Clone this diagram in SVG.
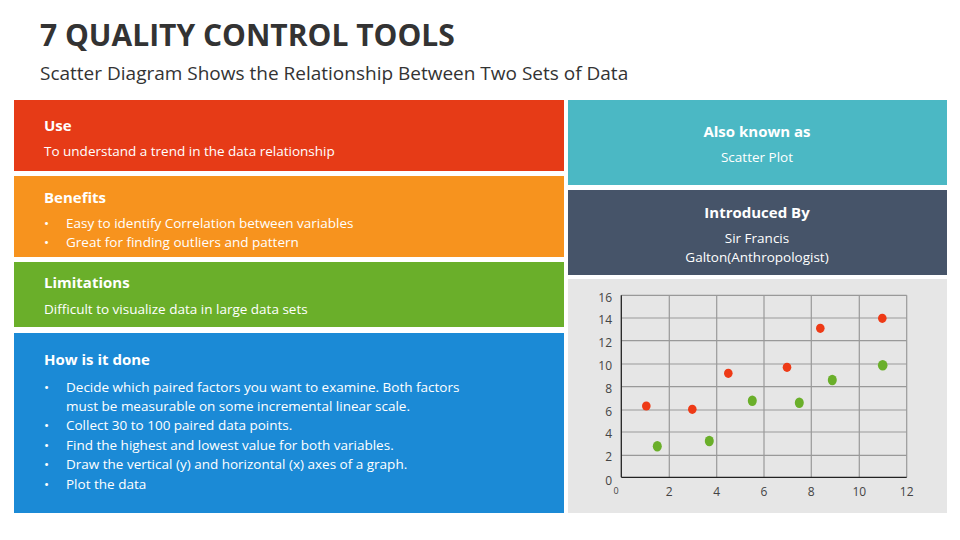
<svg xmlns="http://www.w3.org/2000/svg" width="960" height="540" viewBox="0 0 960 540">
<style>
text{font-family:"Open Sans","Liberation Sans",sans-serif;}
.h{font-size:15px;font-weight:bold;fill:#fff}
.b{font-size:13.5px;fill:#fff}
.ax{font-size:12px;fill:#444}
.g{stroke:#999;stroke-width:1.2}
.r{fill:#EE3A16}
.gr{fill:#6AAF2A}
</style>
<rect width="960" height="540" fill="#fff"/>
<text x="40" y="46" font-size="30" font-weight="bold" fill="#333">7 QUALITY CONTROL TOOLS</text>
<text x="40" y="80" font-size="19" fill="#333">Scatter Diagram Shows the Relationship Between Two Sets of Data</text>
<g id="use"><rect x="14" y="100" width="550" height="71" fill="#E63B17"/>
<text class="h" x="44" y="131">Use</text><text class="b" x="44" y="156">To understand a trend in the data relationship</text></g>
<g id="benefits"><rect x="14" y="176" width="550" height="81" fill="#F7931E"/>
<text class="h" x="44" y="203">Benefits</text>
<text class="b" x="44" y="228">•</text><text class="b" x="66" y="228">Easy to identify Correlation between variables</text>
<text class="b" x="44" y="247">•</text><text class="b" x="66" y="247">Great for finding outliers and pattern</text></g>
<g id="limitations"><rect x="14" y="262" width="550" height="65" fill="#6AAF2A"/>
<text class="h" x="44" y="288">Limitations</text><text class="b" x="44" y="314">Difficult to visualize data in large data sets</text></g>
<g id="how"><rect x="14" y="333" width="550" height="180" fill="#1B8AD6"/>
<text class="h" x="44" y="365">How is it done</text>
<text class="b" x="44" y="392">•</text><text class="b" x="66" y="392">Decide which paired factors you want to examine. Both factors</text>
<text class="b" x="66" y="411">must be measurable on some incremental linear scale.</text>
<text class="b" x="44" y="430">•</text><text class="b" x="66" y="430">Collect 30 to 100 paired data points.</text>
<text class="b" x="44" y="450">•</text><text class="b" x="66" y="450">Find the highest and lowest value for both variables.</text>
<text class="b" x="44" y="469">•</text><text class="b" x="66" y="469">Draw the vertical (y) and horizontal (x) axes of a graph.</text>
<text class="b" x="44" y="489">•</text><text class="b" x="66" y="489">Plot the data</text></g>
<g id="aka"><rect x="568" y="100" width="379" height="85" fill="#4BB8C4"/>
<text class="h" x="757" y="137" text-anchor="middle">Also known as</text><text class="b" x="757" y="162" text-anchor="middle">Scatter Plot</text></g>
<g id="intro"><rect x="568" y="190" width="379" height="85" fill="#465469"/>
<text class="h" x="757" y="218" text-anchor="middle">Introduced By</text><text class="b" x="757" y="243" text-anchor="middle">Sir Francis</text><text class="b" x="757" y="262" text-anchor="middle">Galton(Anthropologist)</text></g>
<g id="chart"><rect x="568" y="279" width="379" height="234" fill="#E6E6E6"/>
<g class="g">
<line x1="669.3" y1="295.3" x2="669.3" y2="477.3"/><line x1="716.7" y1="295.3" x2="716.7" y2="477.3"/><line x1="764" y1="295.3" x2="764" y2="477.3"/><line x1="811.3" y1="295.3" x2="811.3" y2="477.3"/><line x1="859.3" y1="295.3" x2="859.3" y2="477.3"/><line x1="906.7" y1="295.3" x2="906.7" y2="477.3"/>
<line x1="621.3" y1="295.3" x2="906.7" y2="295.3"/><line x1="621.3" y1="318" x2="906.7" y2="318"/><line x1="621.3" y1="340.7" x2="906.7" y2="340.7"/><line x1="621.3" y1="364" x2="906.7" y2="364"/><line x1="621.3" y1="386.7" x2="906.7" y2="386.7"/><line x1="621.3" y1="410" x2="906.7" y2="410"/><line x1="621.3" y1="432" x2="906.7" y2="432"/><line x1="621.3" y1="455.3" x2="906.7" y2="455.3"/>
</g>
<line x1="621.3" y1="295.3" x2="621.3" y2="477.3" stroke="#222" stroke-width="1.3"/>
<line x1="621.3" y1="477.3" x2="906.7" y2="477.3" stroke="#222" stroke-width="1.3"/>
<g class="ax" text-anchor="end">
<text x="612" y="302">16</text><text x="612" y="324">14</text><text x="612" y="347">12</text><text x="612" y="370">10</text><text x="612" y="393">8</text><text x="612" y="416">6</text><text x="612" y="438">4</text><text x="612" y="461">2</text><text x="612" y="485">0</text></g>
<g class="ax" text-anchor="middle">
<text x="616" y="494" font-size="9">0</text><text x="669.3" y="496">2</text><text x="716.7" y="496">4</text><text x="764" y="496">6</text><text x="811.3" y="496">8</text><text x="859.3" y="496">10</text><text x="906.7" y="496">12</text></g>
<g class="r">
<ellipse cx="646.3" cy="406" rx="4.3" ry="4.6"/><ellipse cx="692.3" cy="409.3" rx="4.3" ry="4.6"/><ellipse cx="728.3" cy="373.3" rx="4.3" ry="4.6"/><ellipse cx="787" cy="367.3" rx="4.3" ry="4.6"/><ellipse cx="820.3" cy="328.3" rx="4.3" ry="4.6"/><ellipse cx="882.3" cy="318.3" rx="4.3" ry="4.6"/></g>
<g class="gr">
<ellipse cx="657.3" cy="446.3" rx="4.5" ry="5.2"/><ellipse cx="709.3" cy="441" rx="4.5" ry="5.2"/><ellipse cx="752.3" cy="400.7" rx="4.5" ry="5.2"/><ellipse cx="799.3" cy="402.7" rx="4.5" ry="5.2"/><ellipse cx="832.3" cy="380" rx="4.5" ry="5.2"/><ellipse cx="882.7" cy="365.3" rx="4.8" ry="5.2"/></g>
</g>
</svg>
